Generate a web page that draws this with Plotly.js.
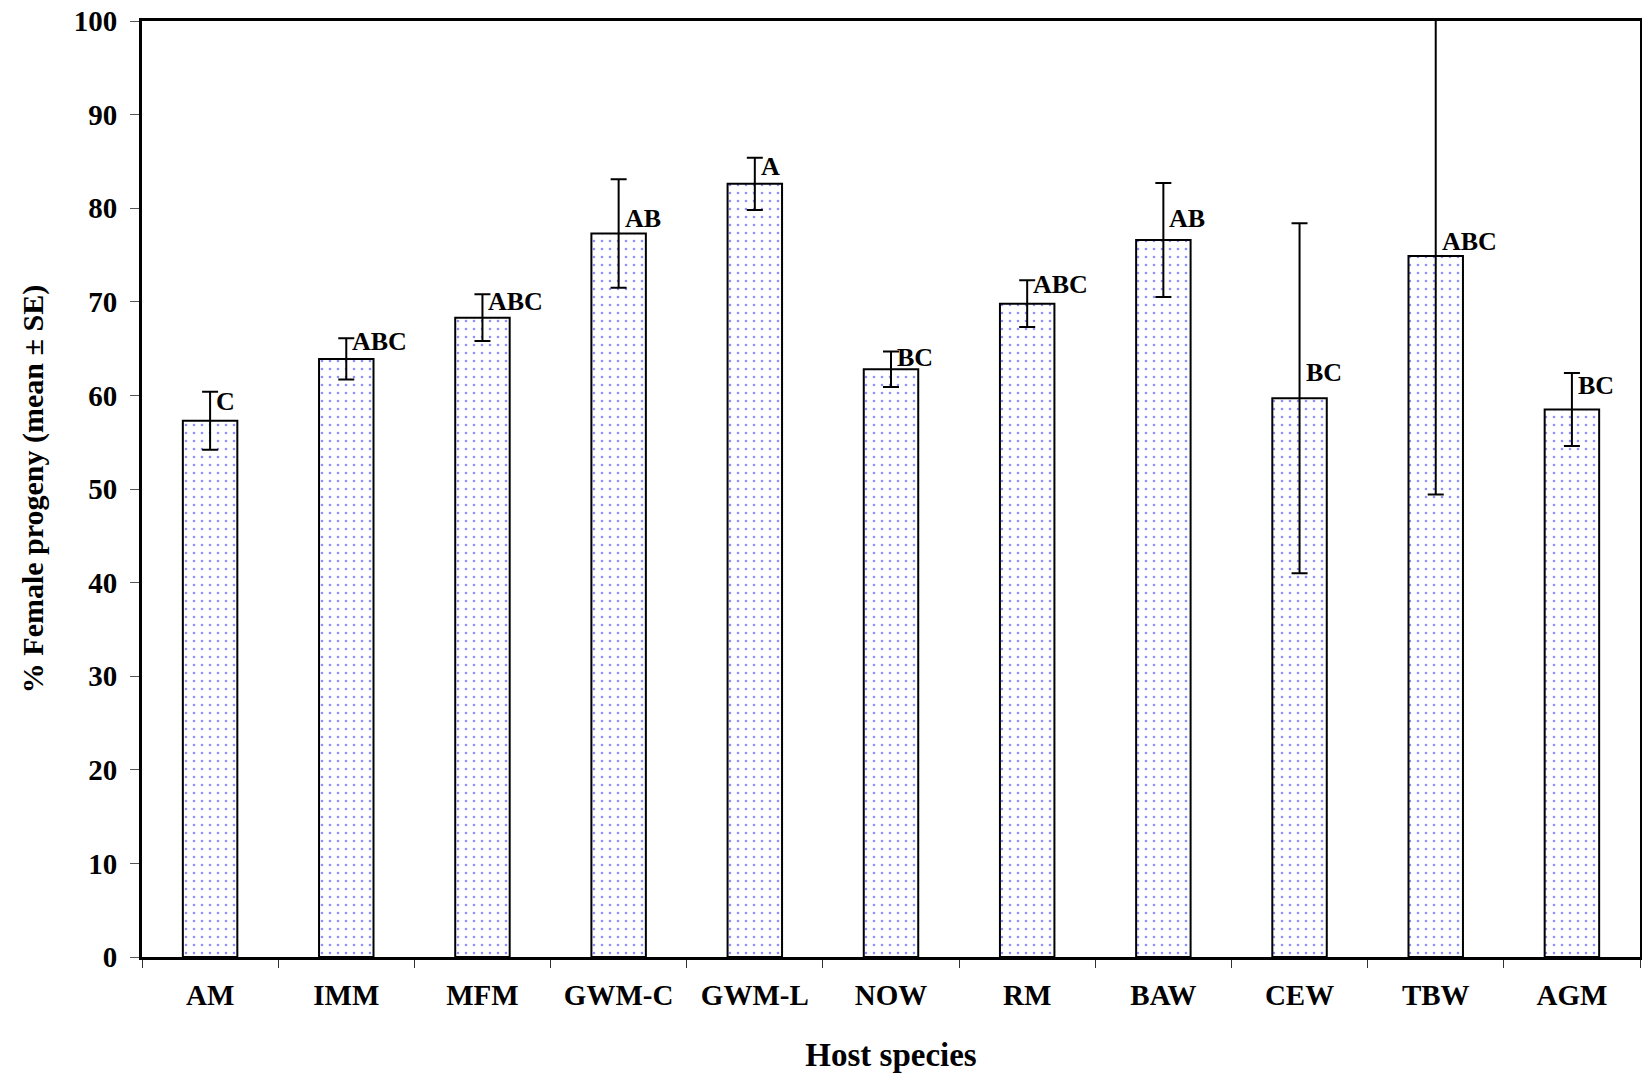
<!DOCTYPE html>
<html>
<head>
<meta charset="utf-8">
<script src="https://cdn.plot.ly/plotly-3.0.1.min.js"></script>
<style>
html,body{margin:0;padding:0;background:#fff;}
#chart{width:1642px;height:1079px;}
</style>
</head>
<body>
<div id="chart"></div>
<script>
const categories = ["AM","IMM","MFM","GWM-C","GWM-L","NOW","RM","BAW","CEW","TBW","AGM"];
const meanValues = [57.3, 63.9, 68.3, 77.3, 82.6, 62.8, 69.8, 76.6, 59.7, 74.9, 58.5];
const seValues   = [3.1, 2.2, 2.5, 5.8, 2.8, 1.9, 2.5, 6.1, 18.7, 25.5, 3.9];
const letters    = ["C","ABC","ABC","AB","A","BC","ABC","AB","BC","ABC","BC"];
const letterHeights = [59.3, 65.8, 70.0, 78.9, 84.5, 64.0, 71.9, 78.9, 62.4, 76.4, 61.1];
const yTickValues = [0,10,20,30,40,50,60,70,80,90,100];

const font = "'Liberation Serif','Times New Roman',serif";

const trace = {
  type: 'bar',
  x: categories,
  y: meanValues,
  width: 0.4,
  marker: {
    color: '#ffffff',
    line: {color: '#000000', width: 2},
    pattern: {shape: '.', fgcolor: '#8c8cff', bgcolor: '#ffffff', size: 8, solidity: 0.08, fillmode: 'replace'}
  },
  error_y: {type: 'data', array: seValues, visible: true, color: '#000000', thickness: 2, width: 8},
  cliponaxis: true,
  hoverinfo: 'skip'
};

const annotations = categories.map((c, i) => ({
  x: c, y: letterHeights[i], xref: 'x', yref: 'y',
  text: '<b>' + letters[i] + '</b>',
  showarrow: false, xanchor: 'left', yanchor: 'middle', xshift: 4,
  font: {family: font, size: 26, color: '#000'}
}));

const layout = {
  width: 1642, height: 1079,
  margin: {l: 142, r: 2, t: 21, b: 122},
  paper_bgcolor: '#ffffff', plot_bgcolor: '#ffffff',
  showlegend: false,
  font: {family: font, color: '#000'},
  bargap: 0.6,
  xaxis: {
    type: 'category',
    tickson: 'boundaries',
    ticks: 'outside', ticklen: 8, tickwidth: 1, tickcolor: '#333',
    showline: true, linecolor: '#000', linewidth: 3, mirror: true,
    showgrid: false, zeroline: false,
    tickfont: {family: font, size: 29, color: '#000', weight: 'bold'},
    ticklabelstandoff: 10,
    title: {text: '<b>Host species</b>', font: {family: font, size: 33, color: '#000'}, standoff: 34}
  },
  yaxis: {
    range: [0, 100],
    tickvals: yTickValues,
    ticks: 'outside', ticklen: 9, tickwidth: 1, tickcolor: '#555',
    showline: true, linecolor: '#000', linewidth: 3, mirror: true,
    showgrid: false, zeroline: false,
    tickfont: {family: font, size: 29, color: '#000', weight: 'bold'},
    ticklabelstandoff: 7,
    title: {text: '<b>% Female progeny (mean ± SE)</b>', font: {family: font, size: 30, color: '#000'}, standoff: 22}
  },
  annotations: annotations
};

Plotly.newPlot('chart', [trace], layout, {displayModeBar: false, staticPlot: true});
</script>
</body>
</html>
